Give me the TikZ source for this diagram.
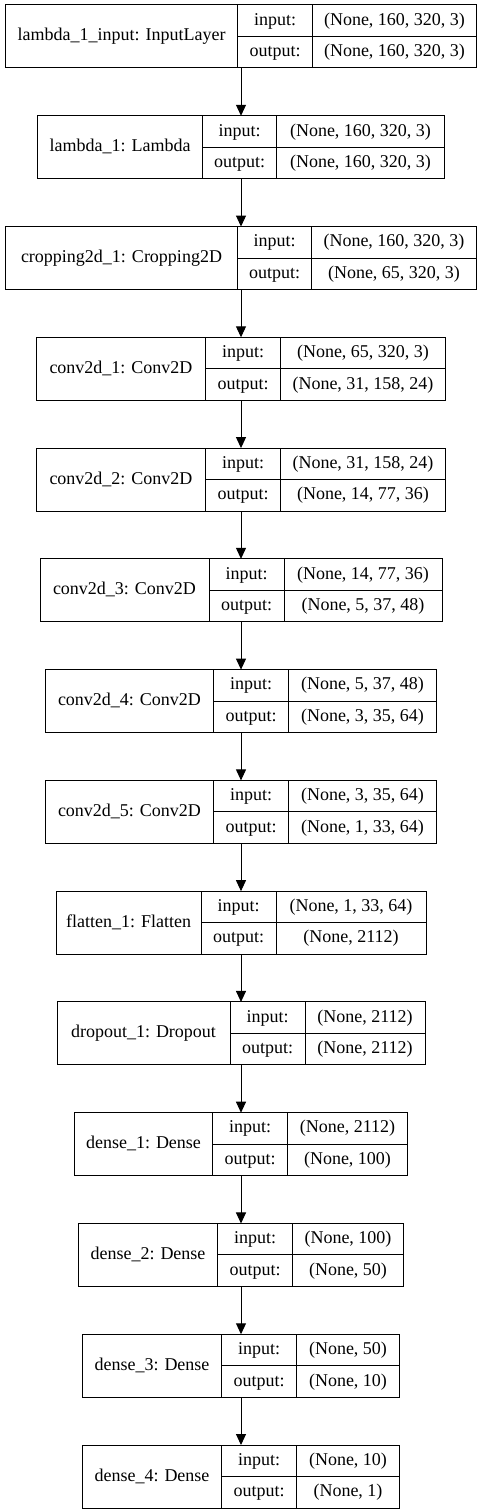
\documentclass[tikz,border=0pt]{standalone}
\usepackage{fontspec}
\setmainfont{Liberation Serif}
\usetikzlibrary{arrows.meta, positioning, calc}

% one keras layer: id, row, name/port/value widths, name, input, output
\newcommand{\netlayer}[8]{%
  \pgfmathsetmacro{\lx}{241-(#3+#4+#5)/2}%
  \pgfmathsetmacro{\ly}{5+110.77*#2}%
  \node (#1) [layerframe, minimum width=#3+#4+#5] at (\lx,\ly) {};
  \node (#1-name) [cellbox, minimum width=#3, minimum height=63, anchor=north west] at (#1.north west) {#6};
  \node (#1-ip) [cellbox, minimum width=#4, anchor=north west] at (#1-name.north east) {input:};
  \node (#1-op) [cellbox, minimum width=#4, below=0pt of #1-ip] {output:};
  \node (#1-iv) [cellbox, minimum width=#5, right=0pt of #1-ip] {#7};
  \node (#1-ov) [cellbox, minimum width=#5, right=0pt of #1-op] {#8};
}

\begin{document}
\begin{tikzpicture}[x=1pt, y=-1pt]
        \tikzstyle{layerframe} = [rectangle, anchor=north west, minimum height=63, inner sep=0pt, outer sep=0pt]
        \tikzstyle{cellbox} = [rectangle, draw=black, line width=1pt, minimum height=31.5, inner sep=0pt, outer sep=0pt, text height=13pt, text depth=4pt, font=\fontsize{18}{20}\selectfont]
        \tikzstyle{arrow} = [line width=1pt, -{Triangle[length=11pt, width=10pt]}]

        \useasboundingbox (0,0) rectangle (484,1512);

        \netlayer{inp}{0}{232}{75}{164}{lambda\_1\_input: InputLayer}{(None, 160, 320, 3)}{(None, 160, 320, 3)}
        \netlayer{lam}{1}{165}{74}{168}{lambda\_1: Lambda}{(None, 160, 320, 3)}{(None, 160, 320, 3)}
        \netlayer{crop}{2}{232}{74}{165}{cropping2d\_1: Cropping2D}{(None, 160, 320, 3)}{(None, 65, 320, 3)}
        \netlayer{convA}{3}{169}{75}{165}{conv2d\_1: Conv2D}{(None, 65, 320, 3)}{(None, 31, 158, 24)}
        \netlayer{convB}{4}{169}{75}{165}{conv2d\_2: Conv2D}{(None, 31, 158, 24)}{(None, 14, 77, 36)}
        \netlayer{convC}{5}{169}{75}{158}{conv2d\_3: Conv2D}{(None, 14, 77, 36)}{(None, 5, 37, 48)}
        \netlayer{convD}{6}{168}{75}{148}{conv2d\_4: Conv2D}{(None, 5, 37, 48)}{(None, 3, 35, 64)}
        \netlayer{convE}{7}{168}{75}{148}{conv2d\_5: Conv2D}{(None, 3, 35, 64)}{(None, 1, 33, 64)}
        \netlayer{flat}{8}{145}{75}{150}{flatten\_1: Flatten}{(None, 1, 33, 64)}{(None, 2112)}
        \netlayer{drop}{9}{173}{75}{120}{dropout\_1: Dropout}{(None, 2112)}{(None, 2112)}
        \netlayer{denseA}{10}{138}{75}{120}{dense\_1: Dense}{(None, 2112)}{(None, 100)}
        \netlayer{denseB}{11}{139}{75}{111}{dense\_2: Dense}{(None, 100)}{(None, 50)}
        \netlayer{denseC}{12}{139}{75}{103}{dense\_3: Dense}{(None, 50)}{(None, 10)}
        \netlayer{denseD}{13}{139}{75}{103}{dense\_4: Dense}{(None, 10)}{(None, 1)}

        \draw [arrow] (inp.south) -- (lam.north);
        \draw [arrow] (lam.south) -- (crop.north);
        \draw [arrow] (crop.south) -- (convA.north);
        \draw [arrow] (convA.south) -- (convB.north);
        \draw [arrow] (convB.south) -- (convC.north);
        \draw [arrow] (convC.south) -- (convD.north);
        \draw [arrow] (convD.south) -- (convE.north);
        \draw [arrow] (convE.south) -- (flat.north);
        \draw [arrow] (flat.south) -- (drop.north);
        \draw [arrow] (drop.south) -- (denseA.north);
        \draw [arrow] (denseA.south) -- (denseB.north);
        \draw [arrow] (denseB.south) -- (denseC.north);
        \draw [arrow] (denseC.south) -- (denseD.north);
    \end{tikzpicture}
\end{document}
